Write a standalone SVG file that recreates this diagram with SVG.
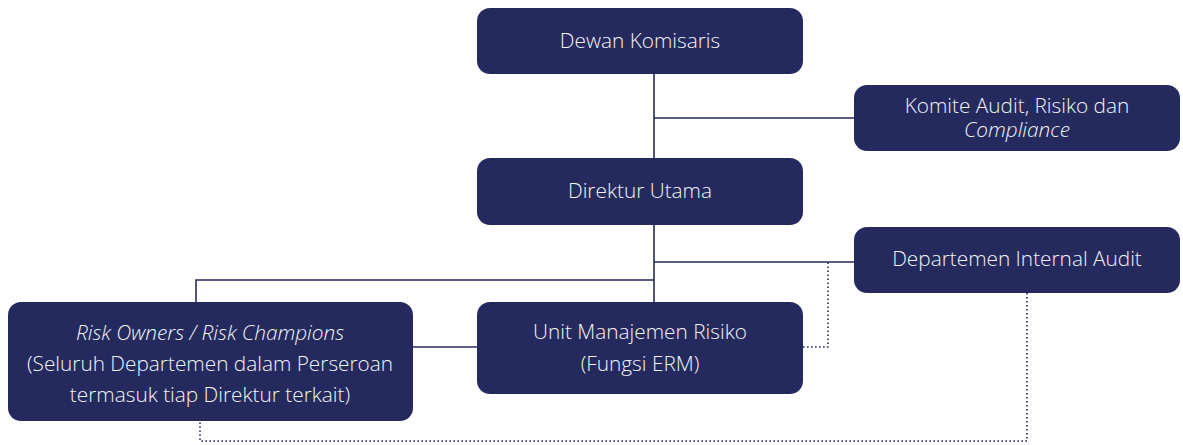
<svg xmlns="http://www.w3.org/2000/svg" width="1183" height="445" viewBox="0 0 1183 445">
<style>
.box{fill:#252a5e;}
.t{font-family:"Open Sans","Liberation Sans",sans-serif;font-size:20.8px;font-weight:300;fill:#f2f2f7;text-anchor:middle;}
.i{font-style:italic;}
.solid{stroke:#252a5e;stroke-width:1.6;fill:none;}
.dot{stroke:#252a5e;stroke-width:1.6;fill:none;stroke-dasharray:1.6 2.4;}
</style>
<rect width="1183" height="445" fill="#ffffff"/>
<g id="connectors">
<path class="solid" d="M654 74 V302"/>
<path class="solid" d="M654 118 H854"/>
<path class="solid" d="M654 262 H854"/>
<path class="solid" d="M654 280 H196 V302"/>
<path class="solid" d="M413 347 H477"/>
<path class="dot" d="M803 347 H828 V262"/>
<path class="dot" d="M1027 293 V441 H200 V421"/>
</g>
<g id="dewan-komisaris">
<rect class="box" x="477" y="8" width="326" height="66" rx="13"/>
<text class="t" x="640" y="48">Dewan Komisaris</text>
</g>
<g id="komite">
<rect class="box" x="854" y="85" width="326" height="66" rx="13"/>
<text class="t" x="1017" y="113">Komite Audit, Risiko dan</text>
<text class="t i" x="1017" y="137">Compliance</text>
</g>
<g id="direktur-utama">
<rect class="box" x="477" y="158" width="326" height="67" rx="13"/>
<text class="t" x="640" y="198">Direktur Utama</text>
</g>
<g id="internal-audit">
<rect class="box" x="854" y="227" width="326" height="66" rx="13"/>
<text class="t" x="1017" y="266">Departemen Internal Audit</text>
</g>
<g id="risk-owners">
<rect class="box" x="8" y="302" width="405" height="119" rx="13"/>
<text class="t i" x="210" y="340">Risk Owners / Risk Champions</text>
<text class="t" x="210" y="371">(Seluruh Departemen dalam Perseroan</text>
<text class="t" x="210" y="402">termasuk tiap Direktur terkait)</text>
</g>
<g id="unit-manajemen-risiko">
<rect class="box" x="477" y="302" width="326" height="92" rx="13"/>
<text class="t" x="640" y="339">Unit Manajemen Risiko</text>
<text class="t" x="640" y="371">(Fungsi ERM)</text>
</g>
</svg>
